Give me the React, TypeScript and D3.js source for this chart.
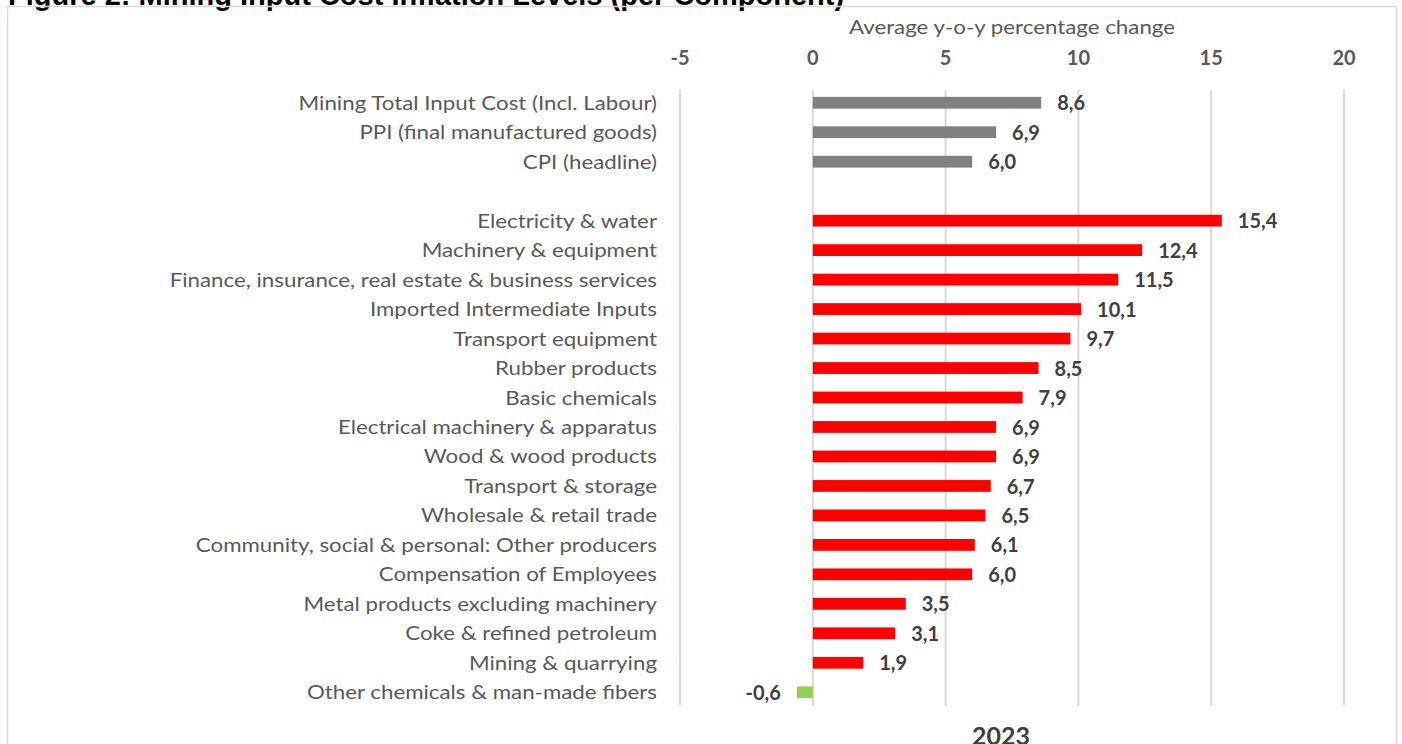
import React from 'react';
import * as d3 from 'd3';

// headline measures (grey) and individual components (red / green)
const headlineNames = [
  'Mining Total Input Cost (Incl. Labour)',
  'PPI (final manufactured goods)',
  'CPI (headline)',
];
const headlineValues = [8.6, 6.9, 6.0];

const componentNames = [
  'Electricity & water',
  'Machinery & equipment',
  'Finance, insurance, real estate & business services',
  'Imported Intermediate Inputs',
  'Transport equipment',
  'Rubber products',
  'Basic chemicals',
  'Electrical machinery & apparatus',
  'Wood & wood products',
  'Transport & storage',
  'Wholesale & retail trade',
  'Community, social & personal: Other producers',
  'Compensation of Employees',
  'Metal products excluding machinery',
  'Coke & refined petroleum',
  'Mining & quarrying',
  'Other chemicals & man-made fibers',
];
const componentValues = [15.4, 12.4, 11.5, 10.1, 9.7, 8.5, 7.9, 6.9, 6.9, 6.7, 6.5, 6.1, 6.0, 3.5, 3.1, 1.9, -0.6];

const xTicks = [-5, 0, 5, 10, 15, 20];

const W = 1402;
const H = 744;
const FONT = 'Lato, "Open Sans", sans-serif';
const STRETCH = 1.115; // the source text is a bit wider than Lato

type Row = { name: string; value: number; group: 'headline' | 'component' };

export default function App() {
  const rows: Row[] = [
    ...headlineNames.map((name, i) => ({ name, value: headlineValues[i], group: 'headline' as const })),
    ...componentNames.map((name, i) => ({ name, value: componentValues[i], group: 'component' as const })),
  ];
  const SPACER = '__spacer__';
  const domain = [...headlineNames, SPACER, ...componentNames];

  const x = d3.scaleLinear().domain([-5, 20]).range([680, 1344]);
  const y = d3.scaleBand<string>().domain(domain).range([88, 707]).paddingInner(0.6).paddingOuter(0.3);

  const color = (d: Row) => (d.group === 'headline' ? '#808080' : d.value < 0 ? '#92d050' : '#ff0000');
  const fmt = (v: number) => d3.format('.1f')(v).replace('.', ',').replace('−', '-');

  return (
    <div style={{ position: 'absolute', left: 0, top: 0 }}>
      <svg width={W} height={H} style={{ display: 'block', background: '#fff' }}>
        <text x={8} y={4.5} fontFamily='"Liberation Sans", Arial, sans-serif' fontWeight="bold" fontSize={29} fill="#000">
          Figure 2: Mining Input Cost Inflation Levels (per Component)
        </text>
        <rect x={7.5} y={6.5} width={1389} height={800} fill="none" stroke="#d9d9d9" strokeWidth={1.5} />

        {/* axis title and ticks */}
        <text
          transform={`translate(1012,34) scale(${STRETCH},1)`}
          textAnchor="middle"
          fontFamily={FONT}
          fontSize={20}
          fill="#595959"
        >
          Average y-o-y percentage change
        </text>
        {xTicks.map((t) => (
          <g key={t}>
            <line x1={x(t)} x2={x(t)} y1={90} y2={706} stroke="#d9d9d9" strokeWidth={2} />
            <text x={x(t)} y={65} textAnchor="middle" fontFamily={FONT} fontWeight="bold" fontSize={20} fill="#595959">
              {t}
            </text>
          </g>
        ))}

        {/* bars */}
        {rows.map((d) => {
          const yc = (y(d.name) ?? 0) + y.bandwidth() / 2;
          const x0 = x(Math.min(0, d.value));
          const x1 = x(Math.max(0, d.value));
          const neg = d.value < 0;
          return (
            <g key={d.name}>
              <text
                transform={`translate(657,${yc}) scale(${STRETCH},1)`}
                dy="0.35em"
                textAnchor="end"
                fontFamily={FONT}
                fontSize={20}
                fill="#595959"
              >
                {d.name}
              </text>
              <rect x={x0} y={y(d.name)} width={x1 - x0} height={y.bandwidth()} fill={color(d)} />
              <text
                x={neg ? x0 - 16 : x1 + 16}
                y={yc}
                dy="0.38em"
                textAnchor={neg ? 'end' : 'start'}
                fontFamily={FONT}
                fontWeight="bold"
                fontSize={20}
                fill="#404040"
              >
                {fmt(d.value)}
              </text>
            </g>
          );
        })}

        <text x={1001} y={745} textAnchor="middle" fontFamily={FONT} fontWeight="bold" fontSize={25} fill="#404040">
          2023
        </text>
      </svg>
    </div>
  );
}
